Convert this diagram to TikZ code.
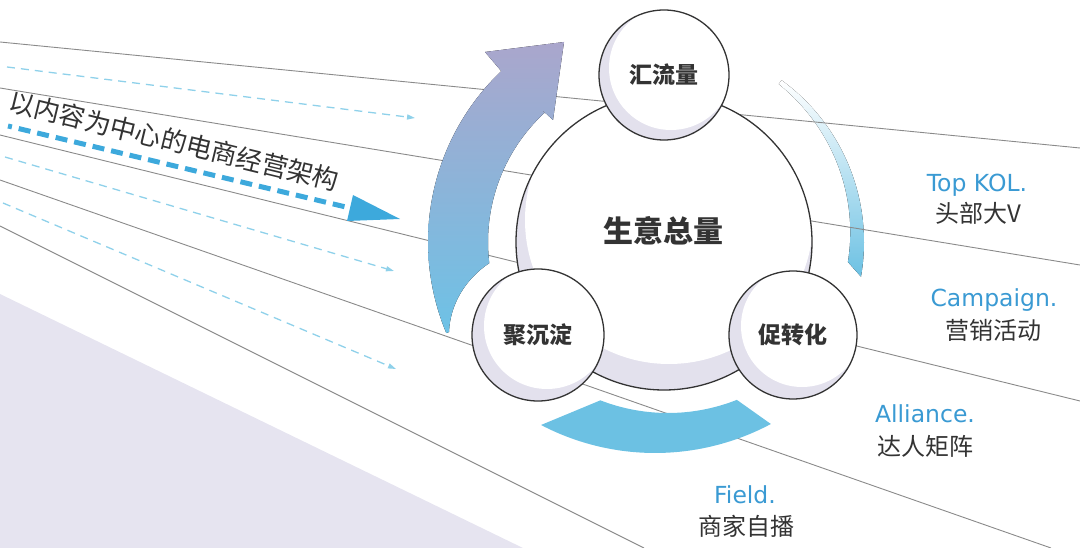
\documentclass[tikz,border=0pt]{standalone}
\usepackage{fontspec}
\newfontfamily\cjk{Noto Sans CJK SC}
\newfontfamily\lat{DejaVu Sans}
\usetikzlibrary{arrows.meta}
\definecolor{bglav}{HTML}{E6E4F0}
\definecolor{clav}{HTML}{E3E1ED}
\definecolor{cborder}{HTML}{333333}
\definecolor{gline}{HTML}{8A8A8A}
\definecolor{ldash}{HTML}{8FD1EA}
\definecolor{mdash}{HTML}{3DA9DC}
\definecolor{arrtop}{HTML}{AAA6CC}
\definecolor{arrbot}{HTML}{6DC2E6}
\definecolor{arcblue}{HTML}{6CC1E3}
\definecolor{lblue}{HTML}{3A9AD3}
\definecolor{txt}{HTML}{333333}
\tikzset{
  gl/.style={draw=gline, line width=0.9pt},
  ld/.style={draw=ldash, line width=1.3pt, dash pattern=on 8pt off 6pt, -{Triangle[length=8pt,width=5pt]}},
  md/.style={draw=mdash, line width=5pt, dash pattern=on 12pt off 7pt, dash phase=8pt},
  ball/.style n args={4}{circle, draw=cborder, line width=1.3pt, fill=clav, inner sep=0pt,
    minimum size={2*#1}, text=txt, font=\cjk\bfseries\fontsize{23}{26}\selectfont,
    path picture={\fill[white] ([shift={(#2,#3)}]path picture bounding box.center) circle[radius={#1-#4}];}},
  entxt/.style={anchor=base, text=lblue, font=\lat\fontsize{23.5}{26}\selectfont, inner sep=0pt},
  cntxt/.style={anchor=base, text=txt, font=\cjk\fontsize{24}{26}\selectfont, inner sep=0pt},
}
\begin{document}
\begin{tikzpicture}[x=1pt,y=-1pt]
\useasboundingbox (0,0) rectangle (1080,548);
% lavender ground
\fill[bglav] (0,294) -- (523,548) -- (0,548) -- cycle;
% right fading arc
\fill[top color=white, bottom color=arcblue]
  plot[domain=-54:10, samples=40, variable=\t] ({664+200*cos(\t)},{242+200*sin(\t)})
  -- plot[domain=6.2:-54, samples=40, variable=\t] ({664+(185+(6.2-\t)*0.17)*cos(\t)},{242+(185+(6.2-\t)*0.17)*sin(\t)})
  -- cycle;
% perspective lines
\coordinate (l1a) at (0,42);   \coordinate (l1b) at (1080,148);
\coordinate (l2a) at (0,88);   \coordinate (l2b) at (1080,265);
\coordinate (l3a) at (0,135);  \coordinate (l3b) at (1080,401);
\coordinate (l4a) at (0,180);  \coordinate (l4b) at (1051,548);
\coordinate (l5a) at (0,226);  \coordinate (l5b) at (644,548);
\foreach \i in {1,...,5} {\draw[gl] (l\i a) -- (l\i b);}
% light dashed arrows
\coordinate (d1a) at (7,67);   \coordinate (d1b) at (415,118);
\coordinate (d2a) at (5,157);  \coordinate (d2b) at (394,271);
\coordinate (d3a) at (3,203);  \coordinate (d3b) at (396,369);
\foreach \i in {1,2,3} {\draw[ld] (d\i a) -- (d\i b);}
% main dashed arrow
\coordinate (dma) at (8,126); \coordinate (dmb) at (350,208);
\coordinate (mh1) at (353,195); \coordinate (mtip) at (400,219); \coordinate (mh2) at (347,221);
\draw[md] (dma) -- (dmb);
\fill[mdash] (mh1) -- (mtip) -- (mh2) -- cycle;
\node[rotate=-13.7, text=txt, font=\cjk\fontsize{26}{28}\selectfont, inner sep=0pt] (title) at (174,141) {以内容为中心的电商经营架构};
% big left arrow
\fill[top color=arrtop, bottom color=arrbot] (449,332)
  -- plot[domain=157.3:226.4, samples=50, variable=\t] ({664+236*cos(\t)},{242+236*sin(\t)})
  -- (485,52) -- (564,42) -- (553,120) -- (540,108)
  -- plot[domain=227.2:173.1, samples=50, variable=\t] ({664+176*cos(\t)},{242+176*sin(\t)})
  .. controls (466,278.5) and (450,304) .. (449,332) -- cycle;
% bottom arc
\fill[arcblue]
  plot[domain=117.6:61.9, samples=50, variable=\t] ({655+246*cos(\t)},{207+246*sin(\t)})
  -- plot[domain=68.4:111.2, samples=50, variable=\t] ({668+187*cos(\t)},{226+187*sin(\t)})
  -- cycle;
% circles
\node[ball={148}{5}{-22}{4}] (core) at (664,242) {};
\node[text=txt, font=\cjk\bfseries\fontsize{30}{32}\selectfont, inner sep=0pt] (coretext) at (663,231) {生意总量};
\node[ball={65}{7}{-7}{3}] (hui) at (664,75) {汇流量};
\node[ball={66}{9}{-9}{3}] (ju) at (538,335) {聚沉淀};
\node[ball={64}{9}{-9}{3}] (cu) at (793,335) {促转化};
% labels
\node[entxt] (kolen) at (977,192) {Top KOL.};
\node[cntxt] (kolcn) at (978,223) {头部大V};
\node[entxt] (camen) at (994,307) {Campaign.};
\node[cntxt] (camcn) at (993,340) {营销活动};
\node[entxt] (allen) at (925,422) {Alliance.};
\node[cntxt] (allcn) at (925,455) {达人矩阵};
\node[entxt] (fien) at (745,503) {Field.};
\node[cntxt] (fiecn) at (746,535) {商家自播};
\end{tikzpicture}
\end{document}
